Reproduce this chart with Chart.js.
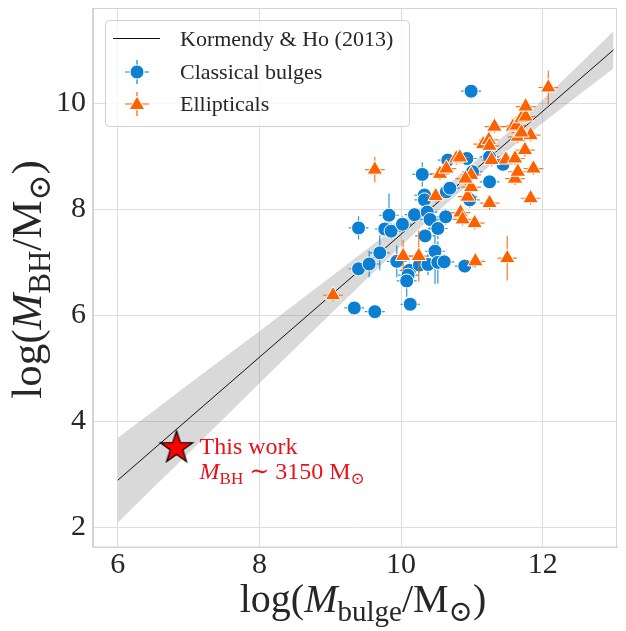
<!DOCTYPE html>
<html lang="en">
<head>
<meta charset="UTF-8">
<title>M_BH - M_bulge relation</title>
<script src="https://cdn.jsdelivr.net/npm/chart.js"></script>
<style>
  html, body { margin: 0; padding: 0; background: #fff; }
  #chartContainer { width: 626px; height: 631px; position: relative; }
</style>
</head>
<body>
<div id="chartContainer"><canvas id="bhChart"></canvas></div>
<script>
// ---- values ----
const xTicks = [6, 8, 10, 12];
const yTicks = [2, 4, 6, 8, 10];

// Kormendy & Ho (2013) relation and its shaded band
const fitMass = [6, 13];
const fitBH = [2.89, 11.01];
const bandMass = [6, 6.5, 7, 7.5, 8, 8.5, 9, 9.5, 10, 10.5, 11, 11.5, 12, 12.5, 13];
const bandLow  = [2.09, 2.75, 3.40, 4.06, 4.72, 5.37, 6.02, 6.67, 7.31, 7.94, 8.53, 9.10, 9.63, 10.15, 10.66];
const bandHigh = [3.69, 4.19, 4.70, 5.20, 5.70, 6.21, 6.72, 7.23, 7.75, 8.28, 8.85, 9.44, 10.07, 10.71, 11.36];

// classical bulges
const bulgeMass = [10.99, 9.40, 9.40, 9.55, 9.70, 9.34, 9.63, 9.83, 9.77, 9.86, 10.02, 9.94, 10.12, 10.10,
  10.08, 10.13, 10.19, 10.30, 10.33, 10.33, 10.37, 10.34, 10.41, 10.52, 10.63, 10.48, 10.26, 10.38,
  10.52, 10.61, 10.64, 10.66, 10.69, 10.93, 11.25, 11.44, 11.25, 10.97, 10.90, 11.01];
const bulgeBH = [10.23, 7.65, 6.88, 6.97, 7.18, 6.14, 6.07, 7.89, 7.63, 7.59, 7.72, 7.02, 6.85, 6.76,
  6.65, 6.21, 7.90, 8.66, 8.27, 8.18, 7.95, 7.50, 7.81, 7.64, 7.86, 7.21, 6.95, 6.96,
  7.00, 7.01, 8.33, 8.93, 8.40, 8.96, 8.99, 8.85, 8.52, 8.18, 6.93, 8.71];
const bulgeErr = [0.08, 0.22, 0.12, 0.25, 0.33, 0.12, 0.12, 0.41, 0.12, 0.15, 0.15, 0.30, 0.15, 0.15,
  0.30, 0.12, 0.12, 0.23, 0.12, 0.12, 0.15, 0.12, 0.20, 0.20, 0.15, 0.62, 0.15, 0.20,
  0.40, 0.15, 0.12, 0.12, 0.12, 0.12, 0.12, 0.12, 0.12, 0.15, 0.12, 0.12];

// ellipticals
const ellMass = [9.04, 9.63, 10.03, 10.25, 10.55, 10.64, 10.49, 10.78, 10.84, 10.87, 11.04, 11.05, 11.50,
  10.94, 10.99, 10.99, 10.91, 11.25, 11.83, 11.61, 11.65, 11.87, 11.28, 11.48, 11.61, 11.75, 11.16,
  11.24, 11.65, 11.83, 11.32, 11.58, 11.63, 11.70, 11.76, 11.76, 12.08, 10.83, 11.70, 11.25];
const ellBH = [6.38, 8.75, 7.12, 7.12, 8.67, 8.77, 8.25, 8.96, 7.94, 7.81, 7.74, 7.02, 7.08,
  8.24, 8.42, 8.65, 8.58, 8.12, 8.21, 8.58, 8.71, 8.77, 8.93, 8.94, 8.96, 9.12, 9.23,
  9.31, 9.37, 9.40, 9.56, 9.56, 9.58, 9.72, 9.75, 9.94, 10.30, 8.98, 9.45, 9.20];
const ellErr = [0.12, 0.24, 0.30, 0.48, 0.12, 0.12, 0.12, 0.12, 0.12, 0.12, 0.12, 0.12, 0.42,
  0.12, 0.12, 0.12, 0.12, 0.12, 0.12, 0.12, 0.12, 0.12, 0.12, 0.12, 0.12, 0.12, 0.12,
  0.12, 0.12, 0.12, 0.12, 0.12, 0.12, 0.12, 0.12, 0.12, 0.32, 0.12, 0.12, 0.12];

const massErr = 0.14;       // bulge-mass uncertainty, same for every point

// this work
const starMass = [6.83];
const starBH = [3.50];

const BLUE = '#0c7fd3';
const ORANGE = '#fe6100';
const TEXT = '#262626';
const FONT = "'Liberation Serif', 'DejaVu Serif', serif";

function pts(xs, ys) { return xs.map((x, i) => ({ x: x, y: ys[i] })); }

// filled 5-point star used as the point style for "this work"
function starImage(R, r) {
  const c = document.createElement('canvas');
  const s = Math.ceil(2 * R + 4);
  c.width = s; c.height = s;
  const g = c.getContext('2d');
  g.beginPath();
  for (let k = 0; k < 10; k++) {
    const rad = k % 2 ? r : R;
    const a = -Math.PI / 2 + k * Math.PI / 5;
    g.lineTo(s / 2 + rad * Math.cos(a), s / 2 + rad * Math.sin(a));
  }
  g.closePath();
  g.fillStyle = '#ff0000';
  g.fill();
  g.lineWidth = 1.2;
  g.strokeStyle = '#000';
  g.stroke();
  return c;
}

// text with italic / subscript pieces
function drawRich(ctx, parts, x, y, size, align) {
  const fontOf = p => (p.i ? 'italic ' : '') + Math.round(p.s ? size * 0.72 : size) + 'px ' + FONT;
  const widths = parts.map(p => { ctx.font = fontOf(p); return ctx.measureText(p.t).width; });
  const total = widths.reduce((a, b) => a + b, 0);
  let cx = align === 'center' ? x - total / 2 : x;
  ctx.textAlign = 'left';
  ctx.textBaseline = 'alphabetic';
  parts.forEach((p, k) => {
    ctx.font = fontOf(p);
    ctx.fillText(p.t, cx, y + (p.s ? size * 0.22 : 0));
    cx += widths[k];
  });
}

function drawCircle(ctx, x, y, r, color) {
  ctx.beginPath();
  ctx.arc(x, y, r, 0, Math.PI * 2);
  ctx.fillStyle = color; ctx.fill();
  ctx.lineWidth = 1; ctx.strokeStyle = '#fff'; ctx.stroke();
}

function drawTriangle(ctx, x, y, r, color) {
  ctx.beginPath();
  for (let k = 0; k < 3; k++) {
    const a = k * 2 * Math.PI / 3;
    ctx.lineTo(x + Math.sin(a) * r, y - Math.cos(a) * r);
  }
  ctx.closePath();
  ctx.fillStyle = color; ctx.fill();
  ctx.lineWidth = 1; ctx.strokeStyle = '#fff'; ctx.stroke();
}

const errorBars = {
  bulges: bulgeErr,
  ellipticals: ellErr
};

const decorPlugin = {
  id: 'decor',
  beforeDatasetDraw(chart, args) {
    const ds = chart.data.datasets[args.index];
    const errs = errorBars[ds.key];
    if (!errs) return;
    const ctx = chart.ctx, xs = chart.scales.x, ys = chart.scales.y;
    ctx.save();
    ctx.strokeStyle = ds.backgroundColor;
    ctx.globalAlpha = 0.85;
    ctx.lineWidth = 1.2;
    ds.data.forEach((p, i) => {
      const px = xs.getPixelForValue(p.x), py = ys.getPixelForValue(p.y);
      ctx.beginPath();
      ctx.moveTo(px, ys.getPixelForValue(p.y + errs[i]));
      ctx.lineTo(px, ys.getPixelForValue(p.y - errs[i]));
      ctx.moveTo(xs.getPixelForValue(p.x - massErr), py);
      ctx.lineTo(xs.getPixelForValue(p.x + massErr), py);
      ctx.stroke();
    });
    ctx.restore();
  },
  afterDatasetsDraw(chart) {
    const ctx = chart.ctx, a = chart.chartArea;
    ctx.save();
    // frame
    ctx.strokeStyle = '#d5d5d5';
    ctx.lineWidth = 1;
    ctx.strokeRect(Math.round(a.left) - 0.5, Math.round(a.top) + 0.5, Math.round(a.right - a.left), Math.round(a.bottom - a.top) - 0.5);

    // annotation next to the star
    const star = chart.getDatasetMeta(0).data[0];
    ctx.fillStyle = '#e8111a';
    ctx.font = '24px ' + FONT;
    ctx.textAlign = 'left';
    ctx.textBaseline = 'alphabetic';
    ctx.fillText('This work', star.x + 23, star.y + 6);
    drawRich(ctx, [{ t: 'M', i: true }, { t: 'BH', s: true }, { t: ' \u223C 3150 M' }, { t: '\u2299', s: true }],
      star.x + 23, star.y + 31, 24, 'left');

    // axis titles
    ctx.fillStyle = TEXT;
    drawRich(ctx, [{ t: 'log(' }, { t: 'M', i: true }, { t: 'bulge', s: true }, { t: '/M' }, { t: '\u2299', s: true }, { t: ')' }],
      (a.left + a.right) / 2 + 8, 612, 40, 'center');
    ctx.save();
    ctx.translate(41, (a.top + a.bottom) / 2 + 2);
    ctx.rotate(-Math.PI / 2);
    drawRich(ctx, [{ t: 'log(' }, { t: 'M', i: true }, { t: 'BH', s: true }, { t: '/M' }, { t: '\u2299', s: true }, { t: ')' }],
      0, 0, 43, 'center');
    ctx.restore();

    // legend
    const lx = 105, ly = 20, lw = 304, lh = 106;
    ctx.beginPath();
    ctx.roundRect(lx + 0.5, ly + 0.5, lw, lh, 4);
    ctx.fillStyle = 'rgba(255,255,255,0.8)';
    ctx.fill();
    ctx.strokeStyle = '#d0d0d0';
    ctx.stroke();

    ctx.strokeStyle = '#111';
    ctx.lineWidth = 1;
    ctx.beginPath();
    ctx.moveTo(113, 38.5); ctx.lineTo(160, 38.5);
    ctx.stroke();

    [[72, BLUE, 'c'], [104, ORANGE, 't']].forEach(([yy, col, kind]) => {
      ctx.strokeStyle = col;
      ctx.lineWidth = 1.2;
      ctx.beginPath();
      ctx.moveTo(137, yy - 12); ctx.lineTo(137, yy + 12);
      ctx.moveTo(125, yy); ctx.lineTo(149, yy);
      ctx.stroke();
      if (kind === 'c') drawCircle(ctx, 137, yy, 7, col);
      else drawTriangle(ctx, 137, yy + 1, 9, col);
    });

    ctx.fillStyle = TEXT;
    ctx.font = '22px ' + FONT;
    ctx.textBaseline = 'middle';
    ctx.fillText('Kormendy & Ho (2013)', 180, 40);
    ctx.fillText('Classical bulges', 180, 73);
    ctx.fillText('Ellipticals', 180, 105);
    ctx.restore();
  }
};

const ctx = document.getElementById('bhChart').getContext('2d');
new Chart(ctx, {
  type: 'scatter',
  data: {
    datasets: [
      {
        label: 'This work', key: 'star', order: 0,
        data: pts(starMass, starBH),
        pointStyle: starImage(17, 6.6), pointRadius: 17
      },
      {
        label: 'Ellipticals', key: 'ellipticals', order: 1,
        data: pts(ellMass, ellBH),
        pointStyle: 'triangle', pointRadius: 9,
        backgroundColor: ORANGE, borderColor: '#ffffff', borderWidth: 1
      },
      {
        label: 'Classical bulges', key: 'bulges', order: 2,
        data: pts(bulgeMass, bulgeBH),
        pointStyle: 'circle', pointRadius: 7,
        backgroundColor: BLUE, borderColor: '#ffffff', borderWidth: 1
      },
      {
        type: 'line', label: 'Kormendy & Ho (2013)', order: 3,
        data: pts(fitMass, fitBH),
        borderColor: '#111111', borderWidth: 1, pointRadius: 0, fill: false
      },
      {
        type: 'line', label: 'band high', order: 4,
        data: pts(bandMass, bandHigh),
        borderWidth: 0, pointRadius: 0, tension: 0,
        fill: '+1', backgroundColor: 'rgba(128,128,128,0.3)'
      },
      {
        type: 'line', label: 'band low', order: 5,
        data: pts(bandMass, bandLow),
        borderWidth: 0, pointRadius: 0, tension: 0, fill: false
      }
    ]
  },
  options: {
    responsive: true,
    maintainAspectRatio: false,
    animation: false,
    devicePixelRatio: 1,
    events: [],
    layout: { autoPadding: false, padding: { top: 8, right: 9, left: 0, bottom: 0 } },
    scales: {
      x: {
        type: 'linear', min: 5.65, max: 13.05,
        afterBuildTicks: s => { s.ticks = xTicks.map(v => ({ value: v })); },
        afterFit: s => { s.height = 84; s.paddingLeft = 0; s.paddingRight = 0; },
        ticks: { font: { family: FONT, size: 30 }, color: TEXT, padding: 0, maxRotation: 0 },
        grid: { color: '#dddddd', drawTicks: false },
        border: { color: '#d5d5d5' }
      },
      y: {
        type: 'linear', min: 1.63, max: 11.8,
        afterBuildTicks: s => { s.ticks = yTicks.map(v => ({ value: v })); },
        afterFit: s => { s.width = 93; s.paddingTop = 0; s.paddingBottom = 0; },
        ticks: { font: { family: FONT, size: 30 }, color: TEXT, padding: 7 },
        grid: { color: '#dddddd', drawTicks: false },
        border: { color: '#d5d5d5' }
      }
    },
    plugins: {
      legend: { display: false },
      tooltip: { enabled: false }
    }
  },
  plugins: [decorPlugin]
});
</script>
</body>
</html>
